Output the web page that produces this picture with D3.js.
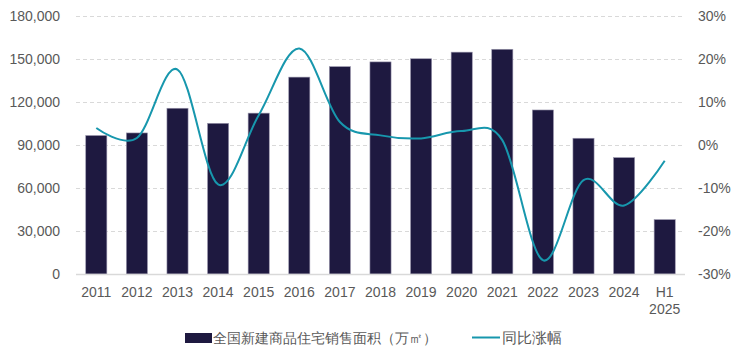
<!DOCTYPE html>
<html>
<head>
<meta charset="utf-8">
<script src="https://cdn.jsdelivr.net/npm/d3@7/dist/d3.min.js"></script>
<style>
  body { margin: 0; background: #fff; }
  text { font-family: "Liberation Sans", Arial, sans-serif; }
</style>
</head>
<body>
<div id="chart"></div>
<script>
// カテゴリ
const years = ['2011','2012','2013','2014','2015','2016','2017','2018','2019','2020','2021','2022','2023','2024','H1 2025'];
// 销售面积（万㎡）
const area = [96500, 98300, 115500, 105000, 112100, 137200, 144500, 147800, 150000, 154600, 156600, 114300, 94600, 81100, 37900];
// 同比涨幅（%）
const yoy = [3.9, 1.6, 17.5, -9.2, 6.9, 22.4, 5.3, 2.2, 1.5, 3.2, 1.1, -26.8, -8.2, -14.1, -3.7];
const leftTicks = [0, 30000, 60000, 90000, 120000, 150000, 180000];
const rightTicks = [-30, -20, -10, 0, 10, 20, 30];
const barName = '全国新建商品住宅销售面积（万㎡）';
const lineName = '同比涨幅';

const W = 740, H = 361;
const PLOT = {left: 76, right: 685, top: 15.7, bottom: 274};
const BAR_COLOR = '#1e1940';
const LINE_COLOR = '#1797ad';
const TEXT_COLOR = '#595959';

const svg = d3.select('#chart').append('svg')
    .attr('width', W)
    .attr('height', H);

const x = d3.scaleBand()
    .domain(years)
    .range([PLOT.left, PLOT.right])
    .paddingInner(0.48)
    .paddingOuter(0.24);
const yL = d3.scaleLinear().domain([0, 180000]).range([PLOT.bottom, PLOT.top]);
const yR = d3.scaleLinear().domain([-30, 30]).range([PLOT.bottom, PLOT.top]);

// グリッド線
svg.append('g')
    .selectAll('line')
    .data(leftTicks.filter(d => d > 0))
    .join('line')
    .attr('x1', PLOT.left)
    .attr('x2', PLOT.right)
    .attr('y1', d => Math.round(yL(d)) + 0.5)
    .attr('y2', d => Math.round(yL(d)) + 0.5)
    .attr('stroke', '#d9d9d9')
    .attr('stroke-dasharray', '4,3');

// 左軸
const axL = svg.append('g')
    .attr('transform', `translate(${PLOT.left},0)`)
    .call(d3.axisLeft(yL).tickValues(leftTicks).tickSize(0).tickPadding(16).tickFormat(d3.format(',')));
axL.select('.domain').remove();
axL.selectAll('text').attr('font-size', 14).attr('fill', TEXT_COLOR).attr('font-family', '"Liberation Sans", Arial, sans-serif');

// 右軸
const axR = svg.append('g')
    .attr('transform', `translate(${PLOT.right},0)`)
    .call(d3.axisRight(yR).tickValues(rightTicks).tickSize(0).tickPadding(13).tickFormat(d => d + '%'));
axR.select('.domain').remove();
axR.selectAll('text').attr('font-size', 14).attr('fill', TEXT_COLOR).attr('font-family', '"Liberation Sans", Arial, sans-serif');

// 棒
svg.append('g')
    .selectAll('rect')
    .data(years)
    .join('rect')
    .attr('x', d => x(d))
    .attr('y', (d, i) => yL(area[i]))
    .attr('width', x.bandwidth())
    .attr('height', (d, i) => yL(0) - yL(area[i]))
    .attr('fill', BAR_COLOR)
    .attr('stroke', '#9a96ad')
    .attr('stroke-width', 0.6);

// 基線
svg.append('line')
    .attr('x1', PLOT.left)
    .attr('x2', PLOT.right)
    .attr('y1', yL(0) + 0.5)
    .attr('y2', yL(0) + 0.5)
    .attr('stroke', '#d9d9d9')
    .attr('stroke-width', 1.5);

// 折れ線
const line = d3.line()
    .x((d, i) => x(years[i]) + x.bandwidth() / 2)
    .y(d => yR(d))
    .curve(d3.curveCardinal.tension(0));
svg.append('path')
    .datum(yoy)
    .attr('d', line)
    .attr('fill', 'none')
    .attr('stroke', LINE_COLOR)
    .attr('stroke-width', 2);

// x軸ラベル
const xl = svg.append('g')
    .attr('fill', TEXT_COLOR)
    .attr('font-size', 14)
    .attr('text-anchor', 'middle');
years.forEach(yr => {
    const cx = x(yr) + x.bandwidth() / 2;
    const parts = yr.split(' ');
    parts.forEach((p, j) => {
        xl.append('text')
            .attr('x', cx)
            .attr('y', 297 + j * 17)
            .text(p);
    });
});

// 凡例
const lg = svg.append('g')
    .attr('font-size', 14)
    .attr('fill', TEXT_COLOR);
lg.append('rect')
    .attr('x', 185).attr('y', 333)
    .attr('width', 27).attr('height', 10)
    .attr('fill', BAR_COLOR);
lg.append('text')
    .attr('x', 213).attr('y', 343)
    .attr('font-family', '"Noto Sans CJK SC", sans-serif')
    .text(barName);
lg.append('line')
    .attr('x1', 472).attr('x2', 500)
    .attr('y1', 337.5).attr('y2', 337.5)
    .attr('stroke', LINE_COLOR)
    .attr('stroke-width', 2);
lg.append('text')
    .attr('x', 502).attr('y', 343)
    .attr('font-family', '"Noto Sans CJK SC", sans-serif')
    .attr('font-size', 14.5)
    .text(lineName);
</script>
</body>
</html>
